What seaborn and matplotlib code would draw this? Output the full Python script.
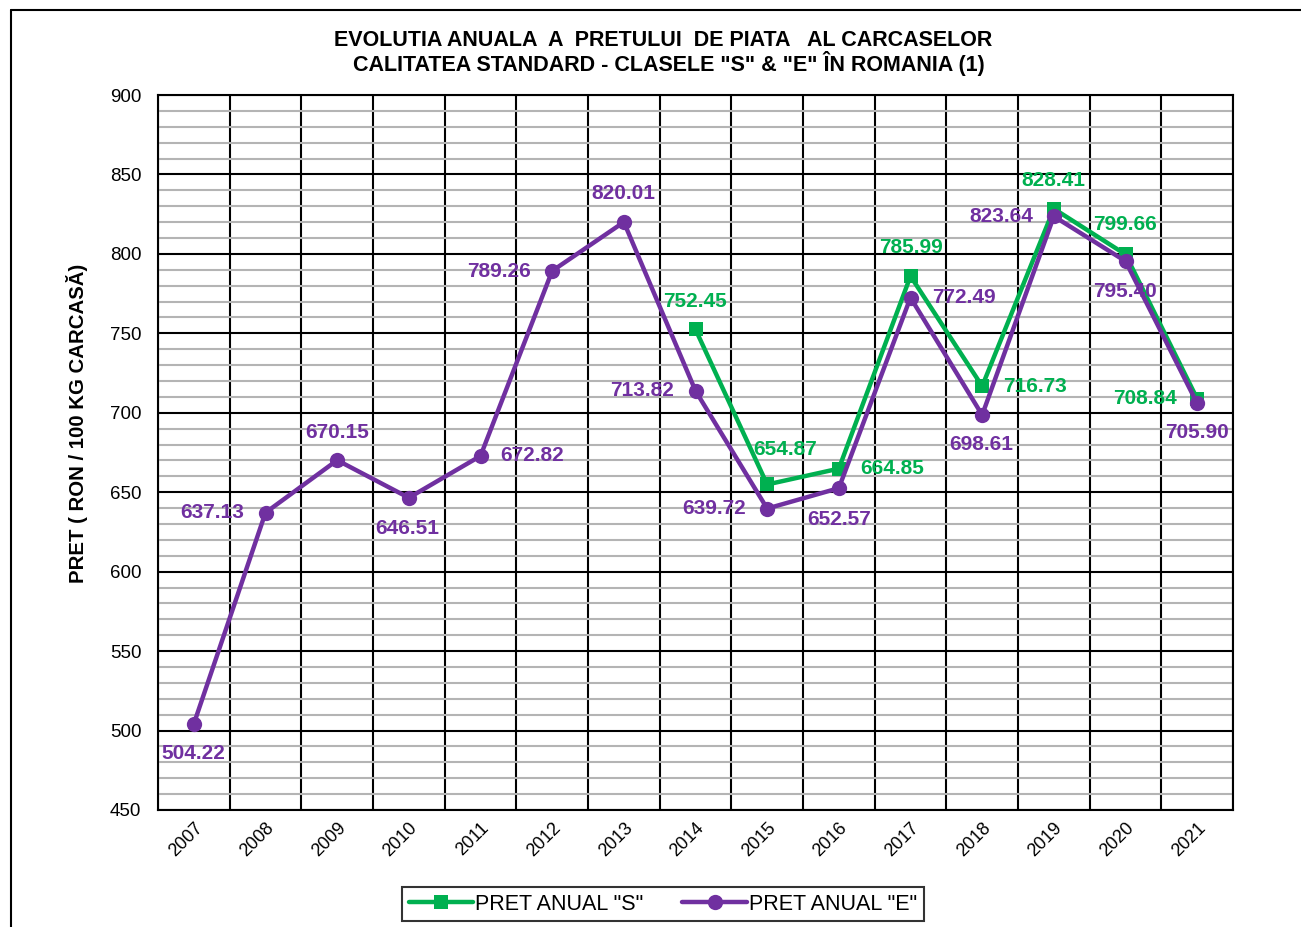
import matplotlib
matplotlib.use("Agg")
import matplotlib.pyplot as plt
import seaborn as sns
import pandas as pd
from matplotlib.lines import Line2D
from matplotlib.ticker import MultipleLocator, FixedLocator, NullFormatter

years = ['2007', '2008', '2009', '2010', '2011', '2012', '2013', '2014',
         '2015', '2016', '2017', '2018', '2019', '2020', '2021']
pret_e = [504.22, 637.13, 670.15, 646.51, 672.82, 789.26, 820.01, 713.82,
          639.72, 652.57, 772.49, 698.61, 823.64, 795.40, 705.90]
years_s = ['2014', '2015', '2016', '2017', '2018', '2019', '2020', '2021']
pret_s = [752.45, 654.87, 664.85, 785.99, 716.73, 828.41, 799.66, 708.84]

# label offsets in pixels (dx, dy)
off_e = [(0, -30), (-53, 0), (0, 28), (-2, -31), (52, 0), (-53, -1), (0, 29), (-53, 0),
         (-53, 0), (0, -31), (53, 0), (-1, -30), (-53, 0), (0, -30), (0, -29)]
off_s = [(0, 28), (18, 35), (53, 0), (0, 29), (53, 0), (0, 28), (0, 30), (-52, 0)]

GREEN = '#00B050'
PURPLE = '#7030A0'

sns.set_style("white")
plt.rcParams['font.family'] = ['Liberation Sans', 'DejaVu Sans']
plt.rcParams['text.color'] = 'black'
plt.rcParams['axes.labelcolor'] = 'black'
plt.rcParams['xtick.color'] = 'black'
plt.rcParams['ytick.color'] = 'black'

df_e = pd.DataFrame({'x': [years.index(y) for y in years], 'pret': pret_e})
df_s = pd.DataFrame({'x': [years.index(y) for y in years_s], 'pret': pret_s})

fig = plt.figure(figsize=(13.01, 9.27), dpi=100)
ax = fig.add_axes([158 / 1301, 1 - 810 / 927, (1233 - 158) / 1301, (810 - 95) / 927])

sns.lineplot(data=df_s, x='x', y='pret', ax=ax, color=GREEN, lw=3.2, marker='s',
             markersize=10, markeredgewidth=0, label='PRET ANUAL "S"', zorder=4)
sns.lineplot(data=df_e, x='x', y='pret', ax=ax, color=PURPLE, lw=3.2, marker='o',
             markersize=11, markeredgewidth=0, label='PRET ANUAL "E"', zorder=5)

for i, v in enumerate(pret_e):
    dx, dy = off_e[i]
    ax.annotate(f'{v:.2f}', (df_e['x'][i], v), xytext=(dx, dy), textcoords='offset pixels',
                ha='center', va='center', color=PURPLE, fontsize=15, fontweight='bold', zorder=6)
for i, v in enumerate(pret_s):
    dx, dy = off_s[i]
    ax.annotate(f'{v:.2f}', (df_s['x'][i], v), xytext=(dx, dy), textcoords='offset pixels',
                ha='center', va='center', color=GREEN, fontsize=15, fontweight='bold', zorder=6)

ax.set_xlim(-0.5, len(years) - 0.5)
ax.set_ylim(450, 900)

# x: boundaries as major ticks, labels at category centers
ax.xaxis.set_major_locator(FixedLocator([i - 0.5 for i in range(len(years) + 1)]))
ax.xaxis.set_major_formatter(NullFormatter())
ax.set_xticks(range(len(years)), minor=True)
ax.set_xticklabels(years, minor=True, rotation=45, ha='right', rotation_mode='anchor', fontsize=13)
ax.tick_params(axis='x', which='major', direction='out', length=7, width=1.5, color='black')
ax.tick_params(axis='x', which='minor', length=0, pad=7)

ax.yaxis.set_major_locator(MultipleLocator(50))
ax.yaxis.set_minor_locator(MultipleLocator(10))
ax.tick_params(axis='y', which='major', direction='out', length=6, width=1.5, labelsize=13.5, pad=6)
ax.tick_params(axis='y', which='minor', direction='inout', length=7, width=1.5, color='black')

ax.grid(True, axis='x', which='major', color='black', lw=1.5)
ax.grid(True, axis='y', which='major', color='black', lw=1.5)
ax.grid(True, axis='y', which='minor', color='#b4b4b4', lw=1.5)
ax.set_axisbelow(True)
for s in ax.spines.values():
    s.set_color('black')
    s.set_linewidth(1.5)

ax.set_xlabel('')
ax.set_ylabel('PRET ( RON / 100 KG CARCASĂ)', fontsize=14.7, fontweight='bold')
ax.yaxis.set_label_coords(88 / 1301, 1 - 423 / 927, transform=fig.transFigure)

fig.text(663 / 1301, 1 - 40 / 927, 'EVOLUTIA ANUALA  A  PRETULUI  DE PIATA   AL CARCASELOR',
         ha='center', va='center', fontsize=15.5, fontweight='bold')
fig.text(669 / 1301, 1 - 64 / 927, 'CALITATEA STANDARD - CLASELE "S" & "E" ÎN ROMANIA (1)',
         ha='center', va='center', fontsize=15.5, fontweight='bold')

leg = ax.legend(loc='center', bbox_to_anchor=(663 / 1301, 1 - 904 / 927),
                bbox_transform=fig.transFigure, ncol=2, fontsize=15.5, frameon=True,
                fancybox=False, edgecolor='black', handlelength=3, handletextpad=0.1,
                columnspacing=1.8, borderpad=0.3)
leg.get_frame().set_linewidth(1.5)

fig.add_artist(Line2D([11 / 1301, 11 / 1301], [0, 1 - 10 / 927], color='black', lw=1.5))
fig.add_artist(Line2D([11 / 1301, 1], [1 - 10 / 927, 1 - 10 / 927], color='black', lw=1.5))

fig.savefig('out.png', dpi=100)
